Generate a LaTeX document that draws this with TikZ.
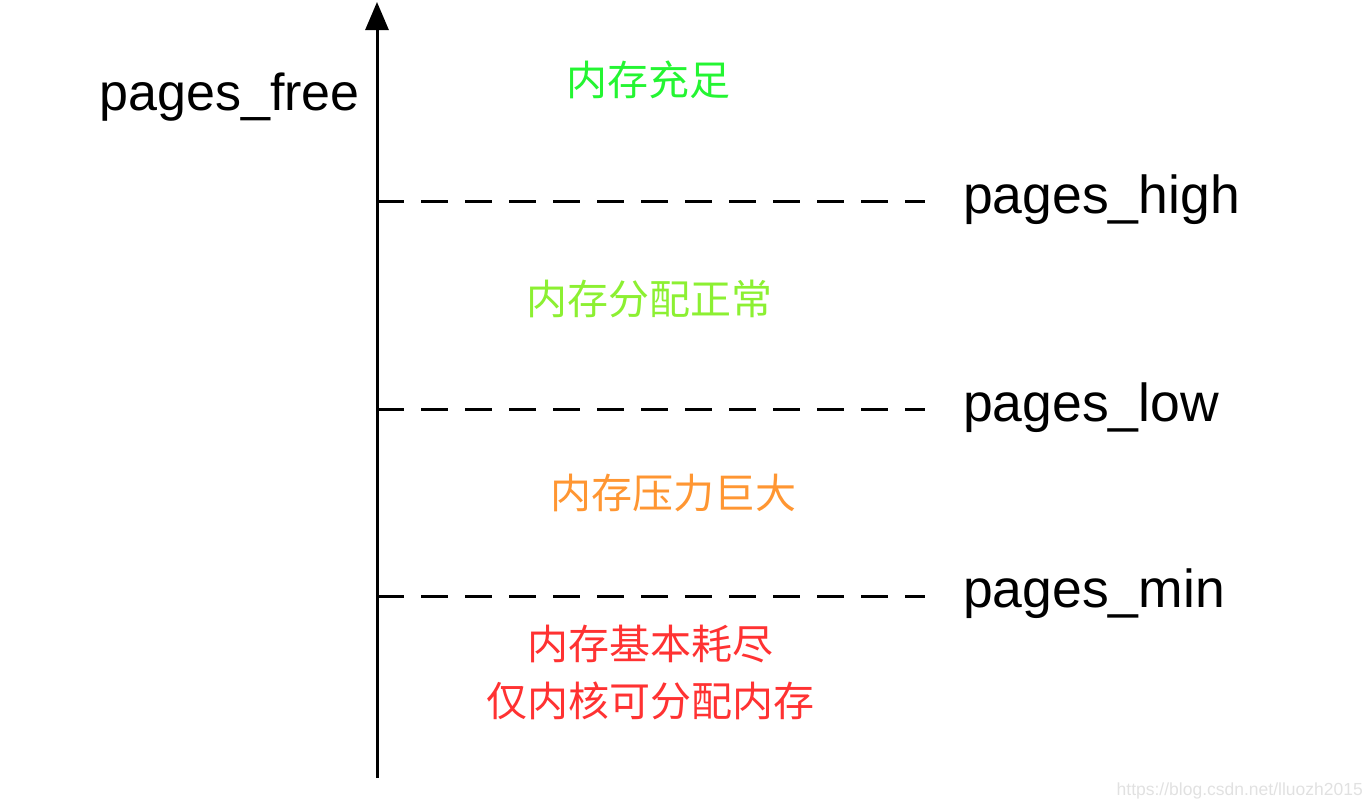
\documentclass[tikz,border=0pt]{standalone}
\usepackage{fontspec}
\setmainfont{Liberation Sans}
\newfontfamily\cjk{Noto Sans CJK SC}
\usetikzlibrary{arrows.meta}
\definecolor{cgreen}{RGB}{36,245,50}
\definecolor{clime}{RGB}{140,240,50}
\definecolor{corange}{RGB}{255,150,50}
\definecolor{cred}{RGB}{255,50,50}
\definecolor{cmark}{RGB}{225,225,225}
\begin{document}
\begin{tikzpicture}[x=1pt,y=-1pt,
  axisline/.style={line width=3pt,-{Triangle[length=28pt,width=23pt]}},
  levelline/.style={line width=3pt,dash pattern=on 27pt off 17pt},
  levellabel/.style={anchor=base west,inner sep=0pt,font=\fontsize{53.5}{60}\selectfont},
  statelabel/.style={anchor=center,inner sep=0pt,font=\cjk\fontsize{41}{50}\selectfont},
  watermark/.style={anchor=base east,inner sep=0pt,text=cmark,font=\fontsize{17.5}{20}\selectfont}]
\useasboundingbox (0,0) rectangle (1372,806);
% axis
\coordinate (axbot) at (377,778);
\coordinate (axtop) at (377,2);
\draw[axisline] (axbot) -- (axtop);
\node[anchor=base east,inner sep=0pt,font=\fontsize{52}{60}\selectfont] (free) at (360,110) {pages\_free};
% level lines
\coordinate (hs) at (377,201); \coordinate (he) at (925,201);
\coordinate (ls) at (377,409); \coordinate (le) at (925,409);
\coordinate (ms) at (377,596); \coordinate (me) at (925,596);
\draw[levelline] (hs) -- (he);
\draw[levelline] (ls) -- (le);
\draw[levelline] (ms) -- (me);
\node[levellabel] (high) at (963,213) {pages\_high};
\node[levellabel] (low) at (963,421) {pages\_low};
\node[levellabel] (min) at (963,607) {pages\_min};
% states
\node[statelabel,text=cgreen] (s1) at (648,80) {内存充足};
\node[statelabel,text=clime] (s2) at (649,299) {内存分配正常};
\node[statelabel,text=corange] (s3) at (673,493) {内存压力巨大};
\node[statelabel,text=cred] (s4) at (650,644) {内存基本耗尽};
\node[statelabel,text=cred] (s5) at (650,701) {仅内核可分配内存};
\node[watermark] (wm) at (1363,795) {https://blog.csdn.net/lluozh2015};
\end{tikzpicture}
\end{document}
